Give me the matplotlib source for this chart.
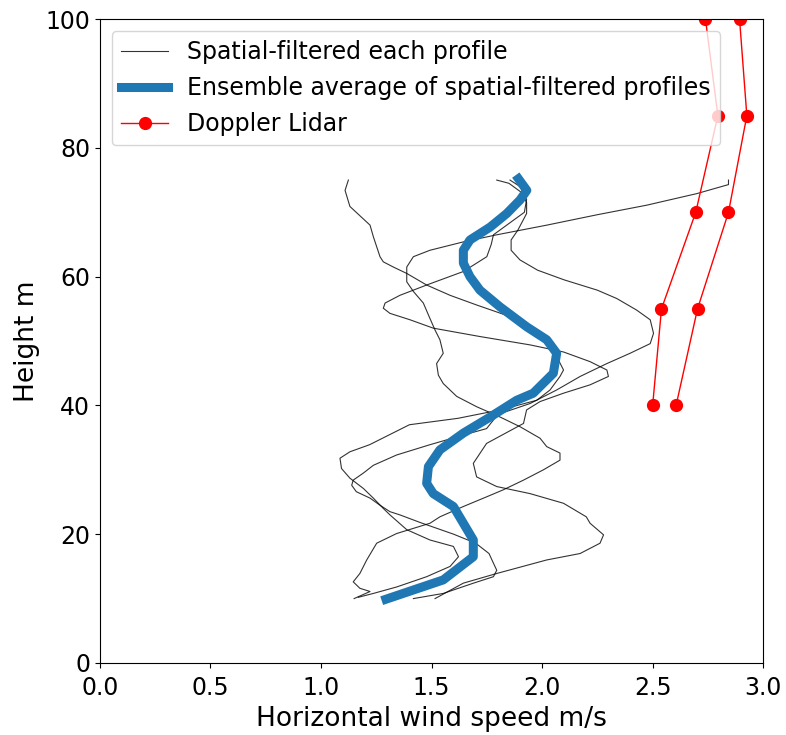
import numpy as np
import matplotlib
matplotlib.use('Agg')
import matplotlib.pyplot as plt

# 各プロファイル (風速 m/s, 高さ m) -- 画像から読み取り
p1_u = [1.124, 1.109, 1.131, 1.222, 1.237, 1.267, 1.282, 1.327, 1.388, 1.478, 1.584, 1.704, 1.855,
        1.946, 2.021, 2.066, 2.097, 2.081, 2.036, 1.976, 1.81, 1.62, 1.40, 1.22, 1.131, 1.086,
        1.093, 1.131, 1.192, 1.237, 1.282, 1.312, 1.388, 1.493, 1.599, 1.622, 1.584, 1.478, 1.342,
        1.237, 1.169]
p1_z = [75.0, 73.4, 70.9, 68.0, 66.2, 63.1, 62.3, 61.5, 60.5, 58.7, 57.1, 55.6, 53.8,
        52.2, 50.2, 47.6, 45.5, 44.5, 42.4, 40.8, 39.3, 38.0, 37.0, 33.9, 32.8, 31.8,
        30.2, 28.7, 27.1, 25.6, 24.0, 23.0, 20.7, 19.1, 18.1, 16.5, 15.0, 13.4, 11.8,
        10.8, 10.2]

p2_u = [1.795, 1.85, 1.91, 1.93, 1.93, 1.89, 1.86, 1.86, 1.90, 1.98, 2.10, 2.25, 2.338, 2.428,
        2.489, 2.504, 2.489, 2.398, 2.293, 2.172, 2.066, 1.946, 1.80, 1.749, 1.644, 1.493, 1.342,
        1.237, 1.192, 1.146, 1.139, 1.16, 1.222, 1.267, 1.312, 1.357, 1.45, 1.60, 1.70, 1.76,
        1.78, 1.795, 1.78, 1.69, 1.553, 1.418]
p2_z = [75.0, 74.5, 73.0, 71.5, 69.8, 67.2, 65.7, 64.1, 62.6, 61.0, 59.5, 57.9, 56.6, 54.8,
        53.3, 51.2, 49.6, 48.1, 46.5, 44.5, 42.4, 40.3, 38.6, 36.4, 35.4, 33.9, 32.3,
        30.7, 29.5, 28.4, 27.6, 26.6, 25.6, 24.5, 23.5, 23.0, 21.8, 20.0, 18.6, 17.0,
        15.5, 14.4, 13.4, 12.4, 10.8, 10.0]

p3_u = [1.855, 1.90, 1.93, 1.92, 1.84, 1.78, 1.77, 1.75, 1.644, 1.478, 1.357, 1.29, 1.282, 1.312,
        1.403, 1.508, 1.719, 1.946, 2.097, 2.217, 2.293, 2.30, 2.217, 2.097, 1.991, 1.93, 1.916,
        1.749, 1.689, 1.704, 1.795, 1.946, 2.097, 2.20, 2.217, 2.278, 2.262, 2.172, 2.021, 1.795,
        1.644, 1.516]
p3_z = [75.0, 74.0, 72.0, 70.0, 68.0, 66.5, 65.0, 63.1, 60.8, 58.7, 57.1, 55.9, 55.1, 54.3,
        53.3, 52.0, 50.7, 49.4, 48.3, 46.8, 45.5, 44.5, 43.2, 41.9, 40.6, 39.3, 37.2,
        34.1, 31.0, 28.9, 27.4, 26.3, 24.8, 22.7, 21.7, 19.9, 18.6, 17.0, 16.0, 13.9,
        12.4, 10.0]

p4_u = [2.843, 2.843, 2.70, 2.473, 2.247, 2.021, 1.795, 1.644, 1.493, 1.418, 1.388, 1.388, 1.418,
        1.463, 1.493, 1.516, 1.538, 1.553, 1.523, 1.531, 1.553, 1.614, 1.704, 1.81, 1.90, 1.991,
        2.021, 2.081, 2.081, 2.006, 1.916, 1.825, 1.749, 1.644, 1.538, 1.493, 1.342, 1.252, 1.207,
        1.176, 1.146, 1.176, 1.222, 1.15]
p4_z = [75.0, 74.3, 72.9, 71.1, 69.6, 68.0, 66.5, 65.4, 64.1, 63.1, 61.5, 59.2, 57.7,
        55.9, 53.5, 51.7, 50.2, 48.1, 46.5, 44.7, 43.4, 41.4, 39.8, 38.2, 36.7, 34.9,
        33.6, 32.6, 31.5, 30.0, 28.4, 26.9, 25.8, 24.3, 22.7, 21.7, 20.1, 18.6, 16.0,
        13.9, 12.6, 11.6, 11.1, 10.0]

# アンサンブル平均
ens_u = [1.294, 1.553, 1.689, 1.689, 1.644, 1.599, 1.508, 1.478, 1.486, 1.538, 1.644, 1.765,
         1.885, 1.96, 2.051, 2.066, 2.021, 1.931, 1.81, 1.719, 1.674, 1.644, 1.644, 1.674,
         1.765, 1.84, 1.90, 1.931, 1.893]
ens_z = [9.9, 12.9, 16.5, 19.1, 21.7, 24.3, 26.3, 27.9, 30.5, 33.1, 35.7, 38.2,
         40.8, 41.9, 45.0, 48.1, 50.2, 52.2, 55.3, 57.9, 60.0, 62.1, 64.1, 65.7,
         67.7, 69.8, 71.9, 73.4, 75.2]

# ドップラーライダー
lidar_z = [40, 55, 70, 85, 100]
lidar1_u = [2.50, 2.54, 2.695, 2.795, 2.739]
lidar2_u = [2.606, 2.703, 2.843, 2.926, 2.893]

fig = plt.figure(figsize=(7.86, 7.35), dpi=100)
ax = fig.add_axes([0.127, 0.098, 0.844, 0.876])

profiles = [(p1_u, p1_z), (p2_u, p2_z), (p3_u, p3_z), (p4_u, p4_z)]
for i, (u, z) in enumerate(profiles):
    ax.plot(u, z, color='k', lw=0.8, alpha=0.8,
            label='Spatial-filtered each profile' if i == 0 else None)

ax.plot(ens_u, ens_z, color='#1f77b4', lw=6.5,
        label='Ensemble average of spatial-filtered profiles')

ax.plot(lidar1_u, lidar_z, 'o-', color='red', lw=1, ms=8.5, label='Doppler Lidar')
ax.plot(lidar2_u, lidar_z, 'o-', color='red', lw=1, ms=8.5)

ax.set_xlim(0, 3.0)
ax.set_ylim(0, 100)
ax.set_xlabel('Horizontal wind speed m/s', fontsize=19)
ax.set_ylabel('Height m', fontsize=19)
ax.tick_params(labelsize=17)
ax.tick_params(axis='x', pad=6)
ax.legend(loc='upper left', fontsize=17)

plt.savefig('out.png', dpi=100)
